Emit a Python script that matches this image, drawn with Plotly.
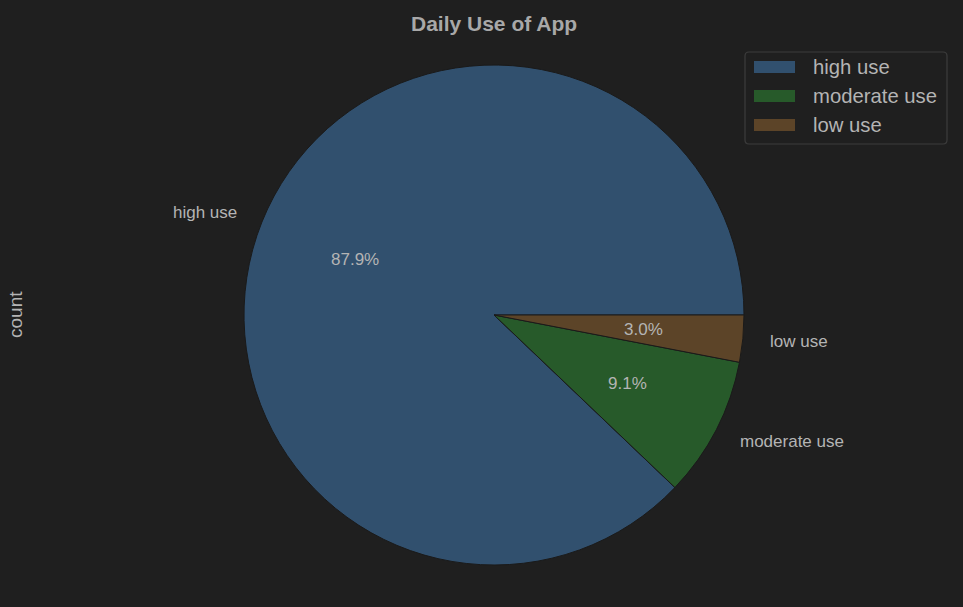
import math
import plotly.graph_objects as go

labels = ["high use", "moderate use", "low use"]
counts = [29, 3, 1]
colors = ["#31506e", "#275a2a", "#5c4428"]
title_text = "Daily Use of App"
ylabel = "count"

W, H = 963, 607
cx, cy, r = 494, 315, 250  # pixel centre / radius of the pie
bg = "#1f1f1f"
txt = "#b4b4b4"
font_family = "Liberation Sans, Arial, sans-serif"

def px(x):
    return x / W

def py(y):
    return 1 - y / H

total = sum(counts)
# matplotlib-style: first slice starts at 3 o'clock, counterclockwise
rotation = 90 + 360 * (1 - counts[0] / total)

fig = go.Figure(go.Pie(
    labels=labels, values=counts, sort=False,
    direction="counterclockwise", rotation=rotation,
    marker=dict(colors=colors, line=dict(color="#1a1a1a", width=1)),
    textinfo="none", hoverinfo="label+percent",
    domain=dict(x=[px(cx - r), px(cx + r)], y=[py(cy + r), py(cy - r)]),
    showlegend=False,
))

annotations = []
start = 0.0
for lab, c in zip(labels, counts):
    frac = c / total
    mid = (start + frac / 2) * 2 * math.pi
    start += frac
    cosv, sinv = math.cos(mid), math.sin(mid)
    lx, ly = cx + 1.1 * r * cosv, cy - 1.1 * r * sinv
    annotations.append(dict(
        x=px(lx), y=py(ly), xref="paper", yref="paper", text=lab, showarrow=False,
        xanchor="left" if cosv > 0 else "right", yanchor="middle",
        font=dict(size=17, color=txt, family=font_family)))
    tx, ty = cx + 0.6 * r * cosv, cy - 0.6 * r * sinv
    annotations.append(dict(
        x=px(tx), y=py(ty), xref="paper", yref="paper", text=f"{100*frac:.1f}%",
        showarrow=False, xanchor="center", yanchor="middle",
        font=dict(size=17, color=txt, family=font_family)))

annotations.append(dict(x=px(cx), y=py(23), xref="paper", yref="paper",
                        text=f"<b>{title_text}</b>", showarrow=False,
                        xanchor="center", yanchor="middle",
                        font=dict(size=21, color="#a8a8a8", family=font_family)))
annotations.append(dict(x=px(15), y=py(cy), xref="paper", yref="paper",
                        text=ylabel, showarrow=False, textangle=-90,
                        xanchor="center", yanchor="middle",
                        font=dict(size=19, color=txt, family=font_family)))

# custom legend box with rounded corners (pixel -> paper)
x0, x1, y0, y1, rad = 745, 947, 52, 144, 4
def P(x, y):
    return f"{px(x)},{py(y)}"
path = (f"M {P(x0+rad, y0)} L {P(x1-rad, y0)} Q {P(x1, y0)} {P(x1, y0+rad)} "
        f"L {P(x1, y1-rad)} Q {P(x1, y1)} {P(x1-rad, y1)} "
        f"L {P(x0+rad, y1)} Q {P(x0, y1)} {P(x0, y1-rad)} "
        f"L {P(x0, y0+rad)} Q {P(x0, y0)} {P(x0+rad, y0)} Z")
shapes = [dict(type="path", xref="paper", yref="paper", path=path,
               line=dict(color="#3c3c3c", width=1.2), fillcolor=bg, layer="above")]
row_y = [67, 96, 125]
for lab, col, yy in zip(labels, colors, row_y):
    shapes.append(dict(type="rect", xref="paper", yref="paper",
                       x0=px(754), x1=px(795), y0=py(yy + 6), y1=py(yy - 6),
                       line=dict(color=col, width=0), fillcolor=col, layer="above"))
    annotations.append(dict(x=px(811), y=py(yy), xref="paper", yref="paper",
                            text=lab, showarrow=False, xanchor="left", yanchor="middle",
                            font=dict(size=20.3, color=txt, family=font_family)))

fig.update_layout(
    width=W, height=H,
    margin=dict(l=0, r=0, t=0, b=0),
    paper_bgcolor=bg, plot_bgcolor=bg,
    annotations=annotations, shapes=shapes,
    showlegend=False,
)

fig.write_html("out.html", config={"displayModeBar": False},
               post_script="document.body.style.margin='0';"
                           "document.body.style.background='#1f1f1f';")
